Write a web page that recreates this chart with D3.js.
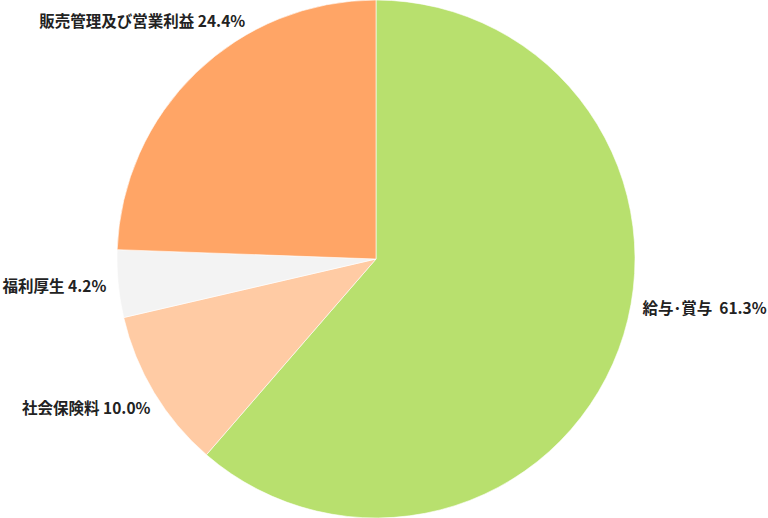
<!DOCTYPE html>
<html>
<head>
<meta charset="utf-8">
<script src="https://cdn.jsdelivr.net/npm/d3@7"></script>
<style>
  body { margin: 0; background: #fff; }
  svg text { font-family: "Noto Sans CJK JP", "Noto Sans", sans-serif; font-weight: bold; font-size: 15.5px; fill: #222; }
</style>
</head>
<body>
<script>
var categories = ["給与･賞与 ", "社会保険料", "福利厚生", "販売管理及び営業利益"];
var values = [61.3, 10.0, 4.2, 24.4];
var colors = ["#b8e06e", "#ffcba4", "#f3f3f3", "#ffa566"];

var width = 768, height = 518;
var cx = 376, cy = 259, radius = 259;

var svg = d3.select("body")
            .append("svg")
            .attr("width", width)
            .attr("height", height);

var pie = d3.pie()
  .sort(null)
  .value(function(d) { return d; });

var arc = d3.arc()
  .innerRadius(0)
  .outerRadius(radius);

var arcs = pie(values);

var g = svg.append("g")
  .attr("transform", "translate(" + cx + "," + cy + ")");

g.selectAll("path")
  .data(arcs)
  .enter().append("path")
  .attr("d", arc)
  .style("fill", function(d, i) { return colors[i]; })
  .style("stroke", "#fff")
  .style("stroke-width", 0.6);

// label layout: vertical spot per label, pushed clear of the pie edge
var labelY = [48, 148, 26, -239];
var labelGap = [12, 13, 12, 31];

g.selectAll("text")
  .data(arcs)
  .enter().append("text")
  .attr("dominant-baseline", "central")
  .attr("xml:space", "preserve")
  .style("white-space", "pre")
  .attr("y", function(d, i) { return labelY[i]; })
  .attr("x", function(d, i) {
    var mid = (d.startAngle + d.endAngle) / 2;
    var edge = Math.sqrt(radius * radius - labelY[i] * labelY[i]);
    return Math.sin(mid) >= 0 ? edge + labelGap[i] : -edge - labelGap[i];
  })
  .attr("text-anchor", function(d) {
    var mid = (d.startAngle + d.endAngle) / 2;
    return Math.sin(mid) >= 0 ? "start" : "end";
  })
  .text(function(d, i) { return categories[i] + " " + values[i].toFixed(1) + "%"; });
</script>
</body>
</html>
